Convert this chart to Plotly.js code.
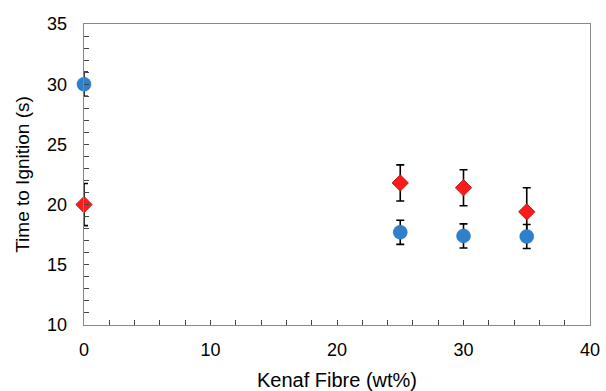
<!DOCTYPE html>
<html><head><meta charset="utf-8">
<script src="https://cdn.plot.ly/plotly-3.0.1.min.js"></script>
<style>html,body{margin:0;padding:0;background:#fff;}#chart{width:606px;height:391px;}</style>
</head><body><div id="chart"></div>
<script>
const fibreA = [0, 25, 30, 35];
const ttiA = [30.0, 17.7, 17.4, 17.35];
const errA = [1.0, 1.0, 1.0, 1.0];
const fibreB = [0, 25, 30, 35];
const ttiB = [20.0, 21.8, 21.4, 19.4];
const errB = [1.75, 1.5, 1.5, 2.0];

const errStyle = {color: '#000', thickness: 1.6, width: 4};
const traces = [
  {x: fibreB, y: ttiB, type: 'scatter', mode: 'markers', cliponaxis: false,
   error_y: Object.assign({type: 'data', array: errB, visible: true}, errStyle),
   marker: {symbol: 'diamond', size: 12.5, color: '#FF1A1A', line: {color: '#B02020', width: 1}}},
  {x: fibreA, y: ttiA, type: 'scatter', mode: 'markers', cliponaxis: false,
   error_y: Object.assign({type: 'data', array: errA, visible: true}, errStyle),
   marker: {symbol: 'circle', size: 14, color: '#2F80CC', line: {color: '#2A70B5', width: 0.5}}}
];
const font = {family: 'Liberation Sans, Arial, sans-serif', color: '#000'};
const layout = {
  width: 606, height: 391,
  margin: {l: 84, r: 16, t: 24, b: 66},
  showlegend: false,
  paper_bgcolor: '#fff', plot_bgcolor: '#fff',
  font: font,
  xaxis: {range: [0, 40], dtick: 10, tick0: 0, showgrid: false, zeroline: false,
    showline: true, mirror: true, linecolor: '#888', linewidth: 1.3,
    ticks: 'inside', ticklen: 5, tickcolor: '#444', tickwidth: 1,
    minor: {dtick: 2, ticks: 'inside', ticklen: 5, tickcolor: '#444', showgrid: false},
    tickfont: {size: 18, family: font.family, color: '#000'},
    ticklabelstandoff: 8,
    title: {text: 'Kenaf Fibre (wt%)', font: {size: 20, family: font.family, color: '#000'}, standoff: 15}},
  yaxis: {range: [10, 35], dtick: 5, tick0: 10, showgrid: false, zeroline: false,
    showline: true, mirror: true, linecolor: '#888', linewidth: 1.3,
    ticks: 'inside', ticklen: 5, tickcolor: '#444', tickwidth: 1,
    minor: {dtick: 1, ticks: 'inside', ticklen: 5, tickcolor: '#444', showgrid: false},
    tickfont: {size: 18, family: font.family, color: '#000'},
    ticklabelstandoff: 12,
    title: {text: 'Time to Ignition (s)', font: {size: 19, family: font.family, color: '#000'}, standoff: 12}}
};
Plotly.newPlot('chart', traces, layout, {staticPlot: true, displayModeBar: false});
</script></body></html>
